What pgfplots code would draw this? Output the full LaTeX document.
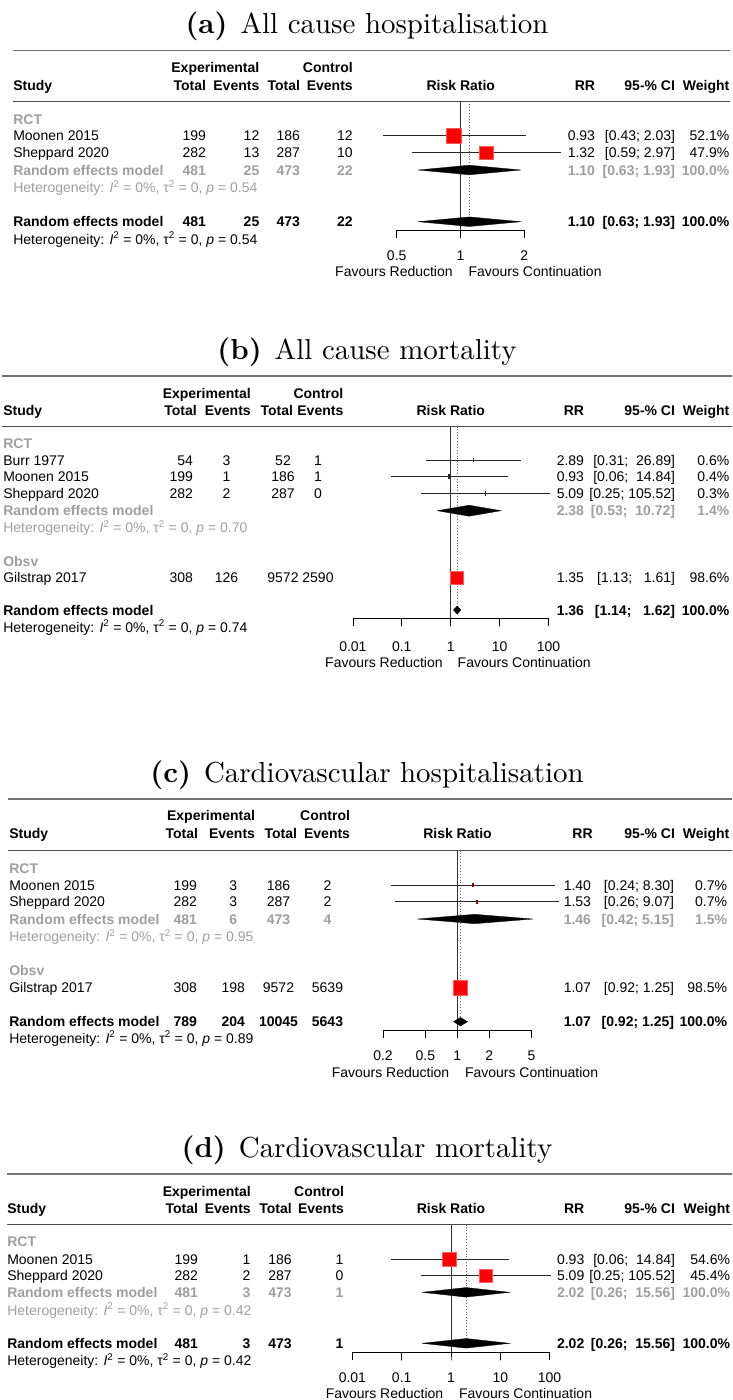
\documentclass[border=0pt]{standalone}
\usepackage{graphicx}
\usepackage{pgfplots}
\pgfplotsset{compat=1.18}
\usepackage{fontspec}
\newfontfamily\hv{Liberation Sans}
\definecolor{lg}{gray}{0.62}
\definecolor{topgray}{gray}{0.45}
\definecolor{hdrgray}{gray}{0.30}
\newcommand{\fs}{\hv\fontsize{14}{16}\selectfont}
\newcommand{\het}[1]{Heterogeneity: \textit{I}\textsuperscript{2} = 0\%, τ\textsuperscript{2} = 0, \textit{p} = #1}
\newcommand{\T}[4]{\node[anchor=#3] at (#1pt,-#2pt) {#4};}
\newcommand{\Ttl}[2]{\node[anchor=base] at (367pt,-#1pt) {\scalebox{2.89}{\rmfamily\fontsize{10}{12}\selectfont #2}};}
\newcommand{\Lrow}[7]{%
  \node[anchor=base west] at (\xS,-#1pt) {#2#3};%
  \node[anchor=\aA] at (\xA,-#1pt) {#2#4};%
  \node[anchor=\aB] at (\xB,-#1pt) {#2#5};%
  \node[anchor=\aC] at (\xC,-#1pt) {#2#6};%
  \node[anchor=\aD] at (\xD,-#1pt) {#2#7};}
\newcommand{\Rrow}[5]{%
  \node[anchor=base east] at (\xR,-#1pt) {#2#3};%
  \node[anchor=base east] at (\xCI,-#1pt) {#2#4};%
  \node[anchor=base east] at (\xW,-#1pt) {#2#5};}
\newcommand{\TL}[2]{\node[anchor=base] at (axis cs:#1,#2) {#1};}
\tikzset{
 ciline/.style={black!85, line width=0.8pt},
 wciline/.style={white, line width=0.8pt},
 refline/.style={black!80, line width=0.9pt},
 dotline/.style={black!60, dotted, line width=0.9pt},
 smallmk/.style={red!55!black, line width=1.8pt},
 diam/.style={fill=black, draw=black, line width=0.3pt},
 axln/.style={black, line width=0.8pt, line join=miter},
}
\begin{document}
\begin{tikzpicture}[every node/.style={inner sep=0pt, outer sep=0pt, font=\fs}]
\useasboundingbox (0pt,0pt) rectangle (732pt,-1400pt);

% ================= (a) =================
\Ttl{33.3}{\textbf{(a)}\hspace{0.45em}All cause hospitalisation}
\draw[topgray, line width=1.3pt] (13pt,-50.7pt) -- (730pt,-50.7pt);
\draw[hdrgray, line width=1.3pt] (13pt,-101.3pt) -- (730pt,-101.3pt);
\def\xS{13.3pt}\def\xA{206pt}\def\aA{base east}\def\xB{259.3pt}\def\aB{base east}
\def\xC{300pt}\def\aC{base east}\def\xD{352.7pt}\def\aD{base east}
\def\xR{595pt}\def\xCI{675pt}\def\xW{729.3pt}
\T{259.3}{72.3}{base east}{\bfseries Experimental}
\T{352.7}{72.3}{base east}{\bfseries Control}
\Lrow{90}{\bfseries}{Study}{Total}{Events}{Total}{Events}
\T{460.8}{90}{base}{\bfseries Risk Ratio}
\Rrow{90}{\bfseries}{RR}{95-\% CI}{Weight}
\T{13.3}{124}{base west}{\color{lg}\bfseries RCT}
\Lrow{140.7}{}{Moonen 2015}{199}{12}{186}{12}
\Rrow{140.7}{}{0.93}{[0.43; 2.03]}{52.1\%}
\Lrow{157.7}{}{Sheppard 2020}{282}{13}{287}{10}
\Rrow{157.7}{}{1.32}{[0.59; 2.97]}{47.9\%}
\Lrow{175}{\color{lg}\bfseries}{Random effects model}{481}{25}{473}{22}
\Rrow{175}{\color{lg}\bfseries}{1.10}{[0.63; 1.93]}{100.0\%}
\T{13.3}{192.5}{base west}{\color{lg}\het{0.54}}
\Lrow{226.7}{\bfseries}{Random effects model}{481}{25}{473}{22}
\Rrow{226.7}{\bfseries}{1.10}{[0.63; 1.93]}{100.0\%}
\T{13.3}{244}{base west}{\het{0.54}}
\T{452.7}{276}{base east}{Favours Reduction}
\T{468.5}{276}{base west}{Favours Continuation}
\begin{axis}[xmode=log, scale only axis, clip=false, enlargelimits=false,
  axis lines=none, anchor=south west,
  at={(396.7pt,-230pt)}, width=127.6pt, height=128.7pt,
  xmin=0.5, xmax=2, ymin=-230, ymax=-101.3]
\addplot[axln] coordinates {(0.5,-238) (0.5,-230) (1,-230) (1,-238) (1,-230) (2,-230) (2,-238)};
\TL{0.5}{-260}\TL{1}{-260}\TL{2}{-260}
\addplot[refline] coordinates {(1,-101.3) (1,-230)};
\addplot[dotline] coordinates {(1.10,-101.3) (1.10,-217)};
\addplot[only marks, mark=square*, mark size=7.15pt, mark options={fill=red, draw=red!65!white, line width=0.4pt}] coordinates {(0.93,-135.7)};
\addplot[only marks, mark=square*, mark size=6.85pt, mark options={fill=red, draw=red!65!white, line width=0.4pt}] coordinates {(1.32,-152.7)};
\addplot[ciline] coordinates {(0.43,-135.7) (2.03,-135.7)};
\addplot[ciline] coordinates {(0.93,-133.2) (0.93,-138.2)};
\addplot[ciline] coordinates {(0.59,-152.7) (2.97,-152.7)};
\addplot[ciline] coordinates {(1.32,-150.2) (1.32,-155.2)};
\addplot[diam] coordinates {(0.63,-170) (1.10,-165.2) (1.93,-170) (1.10,-174.8) (0.63,-170)};
\addplot[diam] coordinates {(0.63,-221.7) (1.10,-216.9) (1.93,-221.7) (1.10,-226.5) (0.63,-221.7)};
\end{axis}

% ================= (b) =================
\Ttl{359}{\textbf{(b)}\hspace{0.45em}All cause mortality}
\draw[topgray, line width=1.3pt] (2pt,-376pt) -- (732pt,-376pt);
\draw[hdrgray, line width=1.3pt] (2pt,-426.5pt) -- (732pt,-426.5pt);
\def\xS{3.3pt}\def\xA{193pt}\def\aA{base east}\def\xB{226.5pt}\def\aB{base}
\def\xC{283pt}\def\aC{base}\def\xD{318pt}\def\aD{base}
\def\xR{584pt}\def\xCI{675pt}\def\xW{729.3pt}
\T{250.7}{398.3}{base east}{\bfseries Experimental}
\T{343.3}{398.3}{base east}{\bfseries Control}
\T{3.3}{415}{base west}{\bfseries Study}
\T{196.7}{415}{base east}{\bfseries Total}
\T{250.7}{415}{base east}{\bfseries Events}
\T{293}{415}{base east}{\bfseries Total}
\T{343.3}{415}{base east}{\bfseries Events}
\T{450.8}{415}{base}{\bfseries Risk Ratio}
\Rrow{415}{\bfseries}{RR}{95-\% CI}{Weight}
\T{3.3}{448.3}{base west}{\color{lg}\bfseries RCT}
\Lrow{465}{}{Burr 1977}{54}{3}{52}{1}
\Rrow{465}{}{2.89}{[0.31;\ \ 26.89]}{0.6\%}
\Lrow{481.7}{}{Moonen 2015}{199}{1}{186}{1}
\Rrow{481.7}{}{0.93}{[0.06;\ \ 14.84]}{0.4\%}
\Lrow{498.3}{}{Sheppard 2020}{282}{2}{287}{0}
\Rrow{498.3}{}{5.09}{[0.25; 105.52]}{0.3\%}
\T{3.3}{515.7}{base west}{\color{lg}\bfseries Random effects model}
\Rrow{515.7}{\color{lg}\bfseries}{2.38}{[0.53;\ \ 10.72]}{1.4\%}
\T{3.3}{532.7}{base west}{\color{lg}\het{0.70}}
\T{3.3}{566}{base west}{\color{lg}\bfseries Obsv}
\Lrow{582.7}{}{Gilstrap 2017}{308}{126}{9572}{2590}
\Rrow{582.7}{}{1.35}{[1.13;\ \ \ 1.61]}{98.6\%}
\T{3.3}{615}{base west}{\bfseries Random effects model}
\Rrow{615}{\bfseries}{1.36}{[1.14;\ \ \ 1.62]}{100.0\%}
\T{3.3}{632}{base west}{\het{0.74}}
\T{442.7}{667}{base east}{Favours Reduction}
\T{457.7}{667}{base west}{Favours Continuation}
\begin{axis}[xmode=log, scale only axis, clip=false, enlargelimits=false,
  axis lines=none, anchor=south west,
  at={(352.9pt,-618.3pt)}, width=195.6pt, height=191.8pt,
  xmin=0.01, xmax=100, ymin=-618.3, ymax=-426.5]
\addplot[axln] coordinates {(0.01,-626.3) (0.01,-618.3) (0.1,-618.3) (0.1,-626.3) (0.1,-618.3) (1,-618.3) (1,-626.3) (1,-618.3) (10,-618.3) (10,-626.3) (10,-618.3) (100,-618.3) (100,-626.3)};
\TL{0.01}{-651}\TL{0.1}{-651}\TL{1}{-651}\TL{10}{-651}\TL{100}{-651}
\addplot[refline] coordinates {(1,-426.5) (1,-618.3)};
\addplot[dotline] coordinates {(1.36,-426.5) (1.36,-605)};
\addplot[only marks, mark=square*, mark size=6.5pt, mark options={fill=red, draw=red!65!white, line width=0.4pt}] coordinates {(1.35,-577.7)};
\addplot[ciline] coordinates {(0.31,-460) (26.89,-460)};
\addplot[ciline, line width=1.4pt] coordinates {(2.89,-457.6) (2.89,-462.4)};
\addplot[ciline] coordinates {(0.06,-476.7) (14.84,-476.7)};
\addplot[ciline, line width=1.4pt] coordinates {(0.93,-474.3) (0.93,-479.1)};
\addplot[ciline] coordinates {(0.25,-493.3) (105.52,-493.3)};
\addplot[ciline, line width=1.4pt] coordinates {(5.09,-490.9) (5.09,-495.7)};
\addplot[diam] coordinates {(0.53,-510.7) (2.38,-505.2) (10.72,-510.7) (2.38,-516.2) (0.53,-510.7)};
\addplot[wciline] coordinates {(1.13,-577.7) (1.61,-577.7)};
\addplot[wciline] coordinates {(1.35,-575.2) (1.35,-580.2)};
\addplot[diam] coordinates {(1.14,-610) (1.36,-605.8) (1.62,-610) (1.36,-614.2) (1.14,-610)};
\end{axis}

% ================= (c) =================
\Ttl{782}{\textbf{(c)}\hspace{0.45em}Cardiovascular hospitalisation}
\draw[topgray, line width=1.3pt] (8pt,-799pt) -- (732pt,-799pt);
\draw[hdrgray, line width=1.3pt] (8pt,-850.5pt) -- (732pt,-850.5pt);
\def\xS{9.3pt}\def\xA{197pt}\def\aA{base east}\def\xB{233.3pt}\def\aB{base}
\def\xC{278.5pt}\def\aC{base}\def\xD{327.5pt}\def\aD{base}
\def\xR{591pt}\def\xCI{674pt}\def\xW{727pt}
\T{255}{820.7}{base east}{\bfseries Experimental}
\T{350}{820.7}{base east}{\bfseries Control}
\T{9.3}{838.3}{base west}{\bfseries Study}
\T{198}{838.3}{base east}{\bfseries Total}
\T{255}{838.3}{base east}{\bfseries Events}
\T{297}{838.3}{base east}{\bfseries Total}
\T{350}{838.3}{base east}{\bfseries Events}
\T{457.5}{838.3}{base}{\bfseries Risk Ratio}
\T{592.7}{838.3}{base east}{\bfseries RR}
\T{675}{838.3}{base east}{\bfseries 95-\% CI}
\T{729.3}{838.3}{base east}{\bfseries Weight}
\T{9.3}{873.3}{base west}{\color{lg}\bfseries RCT}
\Lrow{890}{}{Moonen 2015}{199}{3}{186}{2}
\Rrow{890}{}{1.40}{[0.24; 8.30]}{0.7\%}
\Lrow{906.7}{}{Sheppard 2020}{282}{3}{287}{2}
\Rrow{906.7}{}{1.53}{[0.26; 9.07]}{0.7\%}
\Lrow{924}{\color{lg}\bfseries}{Random effects model}{481}{6}{473}{4}
\Rrow{924}{\color{lg}\bfseries}{1.46}{[0.42; 5.15]}{1.5\%}
\T{9.3}{941.7}{base west}{\color{lg}\het{0.95}}
\T{9.3}{975.7}{base west}{\color{lg}\bfseries Obsv}
\Lrow{992.7}{}{Gilstrap 2017}{308}{198}{9572}{5639}
\Rrow{992.7}{}{1.07}{[0.92; 1.25]}{98.5\%}
\Lrow{1026.7}{\bfseries}{Random effects model}{789}{204}{10045}{5643}
\Rrow{1026.7}{\bfseries}{1.07}{[0.92; 1.25]}{100.0\%}
\T{9.3}{1043}{base west}{\het{0.89}}
\T{449.3}{1077}{base east}{Favours Reduction}
\T{465}{1077}{base west}{Favours Continuation}
\begin{axis}[xmode=log, scale only axis, clip=false, enlargelimits=false,
  axis lines=none, anchor=south west,
  at={(383pt,-1030pt)}, width=148.6pt, height=179.5pt,
  xmin=0.2, xmax=5, ymin=-1030, ymax=-850.5]
\addplot[axln] coordinates {(0.2,-1038) (0.2,-1030) (0.5,-1030) (0.5,-1038) (0.5,-1030) (1,-1030) (1,-1038) (1,-1030) (2,-1030) (2,-1038) (2,-1030) (5,-1030) (5,-1038)};
\TL{0.2}{-1060.7}\TL{0.5}{-1060.7}\TL{1}{-1060.7}\TL{2}{-1060.7}\TL{5}{-1060.7}
\addplot[refline] coordinates {(1,-850.5) (1,-1030)};
\addplot[dotline] coordinates {(1.07,-850.5) (1.07,-1017)};
\addplot[only marks, mark=square*, mark size=7.1pt, mark options={fill=red, draw=red!65!white, line width=0.4pt}] coordinates {(1.07,-987.7)};
\addplot[ciline] coordinates {(0.24,-885) (8.30,-885)};
\addplot[smallmk] coordinates {(1.40,-883) (1.40,-887)};
\addplot[ciline] coordinates {(0.26,-901.7) (9.07,-901.7)};
\addplot[smallmk] coordinates {(1.53,-899.7) (1.53,-903.7)};
\addplot[diam] coordinates {(0.42,-919) (1.46,-914.3) (5.15,-919) (1.46,-923.7) (0.42,-919)};
\addplot[ciline] coordinates {(0.92,-987.7) (1.25,-987.7)};
\addplot[ciline] coordinates {(1.07,-985.2) (1.07,-990.2)};
\addplot[diam] coordinates {(0.92,-1021.7) (1.07,-1017.4) (1.25,-1021.7) (1.07,-1026) (0.92,-1021.7)};
\end{axis}

% ================= (d) =================
\Ttl{1157}{\textbf{(d)}\hspace{0.45em}Cardiovascular mortality}
\draw[topgray, line width=1.3pt] (7pt,-1174pt) -- (732pt,-1174pt);
\draw[hdrgray, line width=1.3pt] (7pt,-1224.5pt) -- (732pt,-1224.5pt);
\def\xS{7.3pt}\def\xA{198pt}\def\aA{base east}\def\xB{250.3pt}\def\aB{base east}
\def\xC{291.7pt}\def\aC{base east}\def\xD{343.5pt}\def\aD{base east}
\def\xR{584.3pt}\def\xCI{675pt}\def\xW{730pt}
\T{250.7}{1196.7}{base east}{\bfseries Experimental}
\T{344}{1196.7}{base east}{\bfseries Control}
\T{7.3}{1213.3}{base west}{\bfseries Study}
\T{198}{1213.3}{base east}{\bfseries Total}
\T{250.7}{1213.3}{base east}{\bfseries Events}
\T{291.7}{1213.3}{base east}{\bfseries Total}
\T{344}{1213.3}{base east}{\bfseries Events}
\T{451}{1213.3}{base}{\bfseries Risk Ratio}
\Rrow{1213.3}{\bfseries}{RR}{95-\% CI}{Weight}
\T{7.3}{1246.7}{base west}{\color{lg}\bfseries RCT}
\Lrow{1264}{}{Moonen 2015}{199}{1}{186}{1}
\Rrow{1264}{}{0.93}{[0.06;\ \ 14.84]}{54.6\%}
\Lrow{1280.7}{}{Sheppard 2020}{282}{2}{287}{0}
\Rrow{1280.7}{}{5.09}{[0.25; 105.52]}{45.4\%}
\Lrow{1297.3}{\color{lg}\bfseries}{Random effects model}{481}{3}{473}{1}
\Rrow{1297.3}{\color{lg}\bfseries}{2.02}{[0.26;\ \ 15.56]}{100.0\%}
\T{7.3}{1315}{base west}{\color{lg}\het{0.42}}
\Lrow{1348.3}{\bfseries}{Random effects model}{481}{3}{473}{1}
\Rrow{1348.3}{\bfseries}{2.02}{[0.26;\ \ 15.56]}{100.0\%}
\T{7.3}{1365.7}{base west}{\het{0.42}}
\T{443.3}{1398}{base east}{Favours Reduction}
\T{459}{1398}{base west}{Favours Continuation}
\begin{axis}[xmode=log, scale only axis, clip=false, enlargelimits=false,
  axis lines=none, anchor=south west,
  at={(352.4pt,-1352.3pt)}, width=197.2pt, height=127.8pt,
  xmin=0.01, xmax=100, ymin=-1352.3, ymax=-1224.5]
\addplot[axln] coordinates {(0.01,-1360.3) (0.01,-1352.3) (0.1,-1352.3) (0.1,-1360.3) (0.1,-1352.3) (1,-1352.3) (1,-1360.3) (1,-1352.3) (10,-1352.3) (10,-1360.3) (10,-1352.3) (100,-1352.3) (100,-1360.3)};
\TL{0.01}{-1382.7}\TL{0.1}{-1382.7}\TL{1}{-1382.7}\TL{10}{-1382.7}\TL{100}{-1382.7}
\addplot[refline] coordinates {(1,-1224.5) (1,-1352.3)};
\addplot[dotline] coordinates {(2.02,-1224.5) (2.02,-1338.5)};
\addplot[only marks, mark=square*, mark size=7pt, mark options={fill=red, draw=red!65!white, line width=0.4pt}] coordinates {(0.93,-1259)};
\addplot[only marks, mark=square*, mark size=6.6pt, mark options={fill=red, draw=red!65!white, line width=0.4pt}] coordinates {(5.09,-1275.7)};
\addplot[ciline] coordinates {(0.06,-1259) (14.84,-1259)};
\addplot[ciline] coordinates {(0.93,-1256.5) (0.93,-1261.5)};
\addplot[ciline] coordinates {(0.25,-1275.7) (105.52,-1275.7)};
\addplot[ciline] coordinates {(5.09,-1273.2) (5.09,-1278.2)};
\addplot[diam] coordinates {(0.26,-1292.3) (2.02,-1287.5) (15.56,-1292.3) (2.02,-1297.1) (0.26,-1292.3)};
\addplot[diam] coordinates {(0.26,-1343.3) (2.02,-1338.5) (15.56,-1343.3) (2.02,-1348.1) (0.26,-1343.3)};
\end{axis}
\end{tikzpicture}
\end{document}
